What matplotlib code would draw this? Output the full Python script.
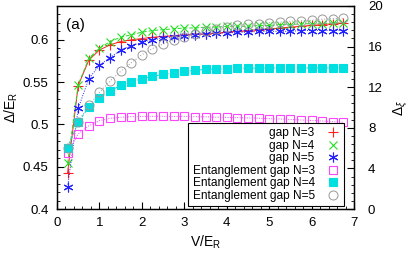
import numpy as np
import matplotlib
matplotlib.use("Agg")
import matplotlib.pyplot as plt
from matplotlib.ticker import MultipleLocator

plt.rcParams['font.family'] = ['Liberation Sans', 'DejaVu Sans']
plt.rcParams['mathtext.fontset'] = 'custom'
plt.rcParams['mathtext.rm'] = 'Liberation Sans'
plt.rcParams['mathtext.it'] = 'Liberation Sans:italic'

V = [0.25, 0.5, 0.75, 1.0, 1.25, 1.5, 1.75, 2.0, 2.25, 2.5, 2.75, 3.0, 3.25, 3.5,
     3.75, 4.0, 4.25, 4.5, 4.75, 5.0, 5.25, 5.5, 5.75, 6.0, 6.25, 6.5, 6.75]

gap_N3 = [0.443, 0.546, 0.576, 0.588, 0.594, 0.598, 0.600, 0.6015, 0.603, 0.604,
          0.605, 0.606, 0.607, 0.607, 0.608, 0.609, 0.610, 0.611, 0.612, 0.613,
          0.614, 0.615, 0.616, 0.617, 0.618, 0.619, 0.620]
gap_N4 = [0.454, 0.547, 0.578, 0.590, 0.598, 0.603, 0.606, 0.609, 0.611, 0.612,
          0.613, 0.614, 0.614, 0.615, 0.615, 0.616, 0.616, 0.616, 0.617, 0.617,
          0.618, 0.618, 0.619, 0.619, 0.619, 0.620, 0.620]
gap_N5 = [0.426, 0.519, 0.554, 0.570, 0.579, 0.588, 0.593, 0.597, 0.600, 0.602,
          0.603, 0.605, 0.606, 0.607, 0.608, 0.608, 0.609, 0.609, 0.610, 0.610,
          0.610, 0.610, 0.611, 0.611, 0.611, 0.611, 0.611]

ent_N3 = [5.56, 7.4, 8.2, 8.7, 8.94, 9.04, 9.1, 9.12, 9.13, 9.13, 9.12, 9.12, 9.1,
          9.08, 9.05, 9.02, 9.0, 8.97, 8.94, 8.9, 8.87, 8.82, 8.77, 8.72, 8.67,
          8.6, 8.55]
ent_N4 = [6.05, 8.54, 10.03, 10.95, 11.6, 12.2, 12.5, 12.84, 13.07, 13.27, 13.4,
          13.56, 13.66, 13.75, 13.8, 13.82, 13.85, 13.87, 13.88, 13.9, 13.9, 13.9,
          13.9, 13.9, 13.9, 13.9, 13.9]
ent_N5 = [6.0, 8.6, 10.2, 11.5, 12.6, 13.56, 14.4, 15.2, 15.8, 16.25, 16.65, 16.9,
          17.2, 17.5, 17.75, 17.95, 18.1, 18.2, 18.25, 18.35, 18.4, 18.5, 18.55,
          18.6, 18.7, 18.75, 18.8]

labels = ['gap N=3', 'gap N=4', 'gap N=5',
          'Entanglement gap N=3', 'Entanglement gap N=4', 'Entanglement gap N=5']

fig = plt.figure(figsize=(4.11, 2.58), dpi=100)
ax = fig.add_axes([57/411, 1-209/258, 297/411, 203/258])
ax2 = ax.twinx()

lw = 0.7
h1, = ax.plot(V, gap_N3, color='#ff2020', marker='+', ms=7, mew=0.8, lw=lw, ls='-')
h2, = ax.plot(V, gap_N4, color='#22dd22', marker='x', ms=6, mew=0.8, lw=lw, ls=(0, (4, 2)))
h3, = ax.plot(V, gap_N5, color='#2222ff', marker=(6, 2, 0), ms=7, mew=0.8, lw=lw, ls=(0, (1, 1.5)))

h4, = ax2.plot(V, ent_N3, color='#ff44ff', marker='s', ms=6, mfc='none', mew=0.8, lw=lw, ls=(0, (1, 1.5)))
h5, = ax2.plot(V, ent_N4, color='#00e0e0', marker='s', ms=6, mew=0.8, lw=lw, ls=(0, (3, 2)))
h6, = ax2.plot(V, ent_N5, color='#999999', marker='o', ms=6.5, mfc='none', mew=0.7, lw=lw, ls=(0, (1, 2)))

ax.set_xlim(0, 7)
ax.set_ylim(0.4, 0.64)
ax2.set_ylim(0, 20)

ax.xaxis.set_major_locator(MultipleLocator(1))
ax.xaxis.set_minor_locator(MultipleLocator(0.2))
ax.yaxis.set_minor_locator(MultipleLocator(0.01))
ax2.yaxis.set_major_locator(MultipleLocator(4))
ax2.yaxis.set_minor_locator(MultipleLocator(0.8))

ax.set_yticks([0.4, 0.45, 0.5, 0.55, 0.6])
ax.set_yticklabels(['0.4', '0.45', '0.5', '0.55', '0.6'])

ax.tick_params(axis='both', which='major', direction='in', length=5, width=0.8, labelsize=9.5, pad=6,
               top=False, right=False)
ax.tick_params(axis='both', which='minor', direction='in', length=2.5, width=0.6, top=False, right=False)
ax2.tick_params(axis='y', which='major', direction='in', length=5, width=0.8, labelsize=9.5, pad=10)
ax2.tick_params(axis='y', which='minor', direction='in', length=2.5, width=0.6)

for a in (ax, ax2):
    for s in a.spines.values():
        s.set_linewidth(0.9)

ax.set_xlabel('V/E$_{\\mathrm{R}}$', fontsize=10, labelpad=3)
ax.set_ylabel('Δ/E$_{\\mathrm{R}}$', fontsize=10, labelpad=2)
ax2.set_ylabel('Δ$_{ξ}$', fontsize=10, labelpad=6)

ax.text(0.03, 0.94, '(a)', transform=ax.transAxes, fontsize=11, va='top', ha='left')

leg = ax2.legend([h1, h2, h3, h4, h5, h6], labels, loc='lower right',
                 bbox_to_anchor=(0.966, 0.015), fontsize=8.6, markerfirst=False,
                 frameon=True, fancybox=False, edgecolor='black', framealpha=1,
                 handlelength=1.2, handletextpad=0.9, labelspacing=0.04,
                 borderpad=0.35, borderaxespad=0)
leg.get_frame().set_linewidth(0.8)
for lh in leg.legend_handles:
    lh.set_linestyle('none')

fig.savefig('out.png', dpi=100)
